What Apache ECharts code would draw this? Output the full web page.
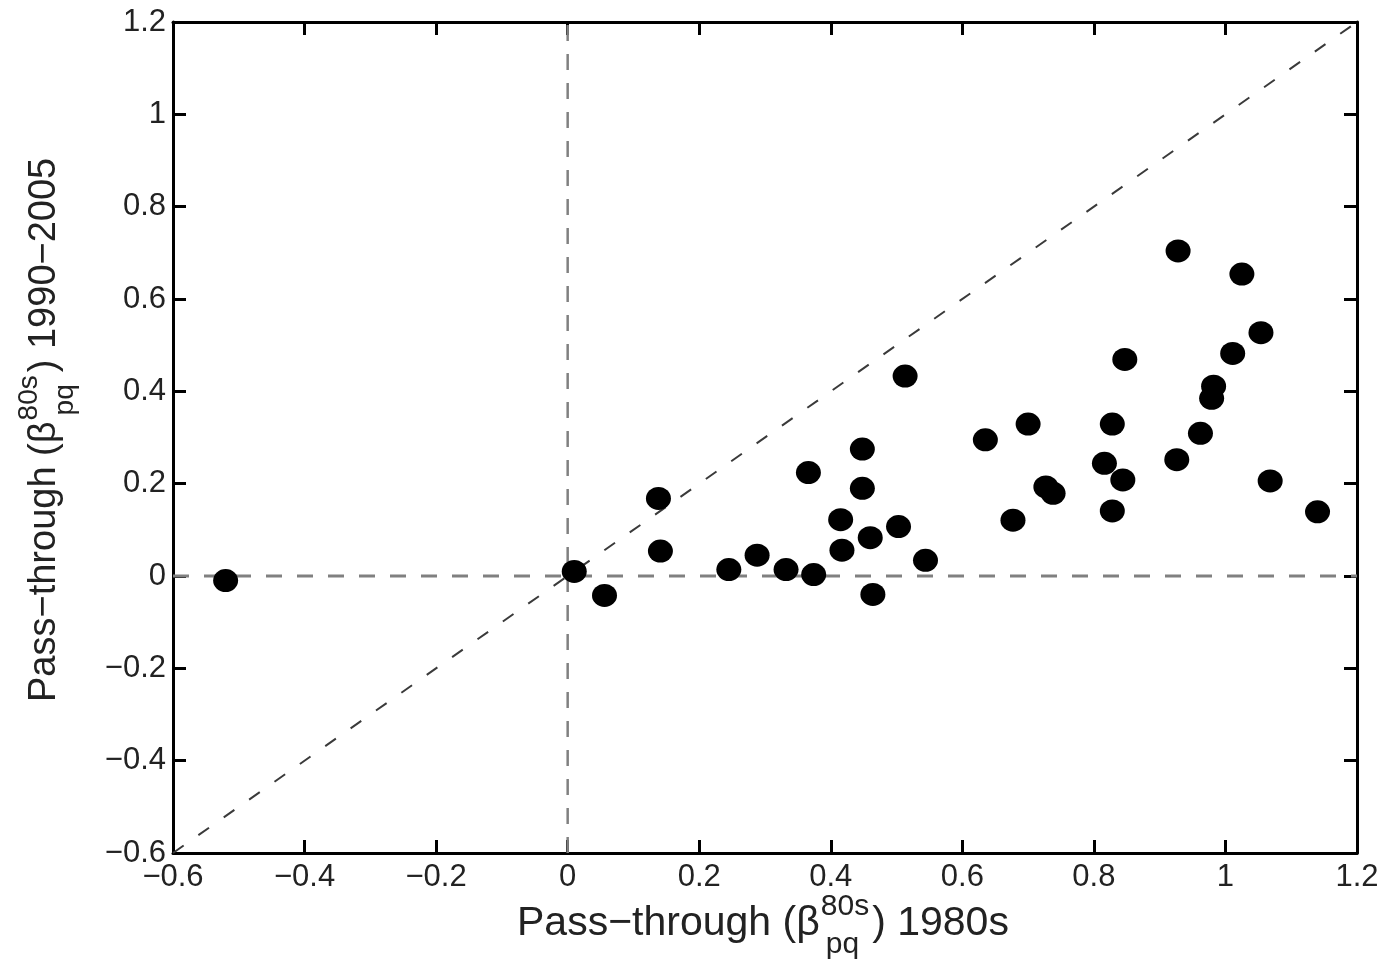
<!DOCTYPE html>
<html><head><meta charset="utf-8">
<script src="https://cdn.jsdelivr.net/npm/echarts@6/dist/echarts.min.js"></script>
<style>html,body{margin:0;padding:0;background:#fff}#c{width:1384px;height:959px}</style>
</head><body><div id="c"></div>
<script>
// ---- data ----
const pointsX = [-0.52, 0.01, 0.056, 0.138, 0.141, 0.245, 0.288, 0.332, 0.374, 0.366,
  0.415, 0.417, 0.448, 0.448, 0.460, 0.464, 0.503, 0.513, 0.544, 0.635,
  0.677, 0.700, 0.727, 0.738, 0.816, 0.828, 0.828, 0.844, 0.847, 0.928,
  0.926, 0.962, 0.979, 0.982, 1.011, 1.025, 1.054, 1.068, 1.140];
const pointsY = [-0.01, 0.01, -0.042, 0.168, 0.054, 0.014, 0.045, 0.014, 0.003, 0.224,
  0.122, 0.056, 0.275, 0.190, 0.083, -0.040, 0.107, 0.433, 0.034, 0.295,
  0.121, 0.329, 0.193, 0.179, 0.244, 0.329, 0.141, 0.208, 0.469, 0.704,
  0.252, 0.309, 0.385, 0.411, 0.482, 0.654, 0.527, 0.206, 0.139];

const axisMin = -0.6, axisMax = 1.2, axisStep = 0.2;
const tickLabels = ['−0.6', '−0.4', '−0.2', '0', '0.2', '0.4', '0.6', '0.8', '1', '1.2'];

// reference lines (values)
const hLineX = [-0.6, 1.2], hLineY = [0, 0];
const vLineX = [0, 0], vLineY = [-0.6, 1.2];
const diagX = [-0.6, 1.2], diagY = [-0.6, 1.2];

const xTitle = { pre: 'Pass−through (β', sup: '80s', sub: 'pq', post: ') 1980s' };
const yTitle = { pre: 'Pass−through (β', sup: '80s', sub: 'pq', post: ') 1990−2005' };

// ---- helpers ----
const FONT = '"Liberation Sans", Arial, Helvetica, sans-serif';
const TXT = '#222';
const cv = document.createElement('canvas').getContext('2d');
function tw(t, size) { cv.font = size + 'px ' + FONT; return cv.measureText(t).width; }
function lbl(v) { return tickLabels[Math.round((v - axisMin) / axisStep)]; }
function zip(a, b) { return a.map((v, i) => [v, b[i]]); }

function textEl(t, x, y, size) {
  return { type: 'text', x: x, y: y, silent: true,
    style: { text: t, font: size + 'px ' + FONT, fill: TXT,
      align: 'left', textAlign: 'left', verticalAlign: 'middle', textVerticalAlign: 'middle' } };
}
function titleChildren(t, size, ssize, supDy, subDy) {
  const wPre = tw(t.pre, size);
  const supX = wPre + 1, subX = wPre + 6;
  const end = Math.max(supX + tw(t.sup, ssize), subX + tw(t.sub, ssize)) + 3;
  return [
    textEl(t.pre, 0, 0, size),
    textEl(t.sup, supX, supDy, ssize),
    textEl(t.sub, subX, subDy, ssize),
    textEl(t.post, end, 0, size)
  ];
}

const axisLineStyle = { show: true, onZero: false, lineStyle: { color: '#000', width: 3 } };
const tickStyle = { show: true, inside: true, length: 13, lineStyle: { color: '#000', width: 3 } };
const base = { type: 'value', min: axisMin, max: axisMax, interval: axisStep,
  splitLine: { show: false }, axisLine: axisLineStyle, axisTick: tickStyle };

const chart = echarts.init(document.getElementById('c'), null, { renderer: 'canvas' });
chart.setOption({
  animation: false,
  backgroundColor: '#fff',
  grid: { left: 173, right: 27, top: 22, bottom: 106, containLabel: false },
  xAxis: [
    Object.assign({}, base, { position: 'bottom',
      axisLabel: { formatter: lbl, fontSize: 31, fontFamily: FONT, color: TXT, margin: 9, lineHeight: 31 } }),
    Object.assign({}, base, { position: 'top', axisLabel: { show: false } })
  ],
  yAxis: [
    Object.assign({}, base, { position: 'left',
      axisLabel: { formatter: lbl, fontSize: 31, fontFamily: FONT, color: TXT, margin: 7 } }),
    Object.assign({}, base, { position: 'right', axisLabel: { show: false } })
  ],
  series: [
    { type: 'line', data: zip(hLineX, hLineY), symbol: 'none', silent: true, z: 1,
      lineStyle: { color: '#808080', width: 3, type: [16, 15] } },
    { type: 'line', data: zip(vLineX, vLineY), symbol: 'none', silent: true, z: 1,
      lineStyle: { color: '#808080', width: 2.5, type: [16, 13] } },
    { type: 'line', data: zip(diagX, diagY), symbol: 'none', silent: true, z: 1,
      lineStyle: { color: '#3a3a3a', width: 2, type: [13, 18] } },
    { type: 'scatter', data: zip(pointsX, pointsY), symbol: 'circle', symbolSize: [25, 23], z: 5,
      itemStyle: { color: '#000', opacity: 1 } }
  ],
  graphic: [
    { type: 'group', x: 517, y: 924, silent: true,
      children: titleChildren(xTitle, 41, 30, -17, 21) },
    { type: 'group', x: 45, y: 702, rotation: Math.PI / 2, silent: true,
      children: titleChildren(yTitle, 38, 28, -16, 20) }
  ]
});
</script></body></html>
